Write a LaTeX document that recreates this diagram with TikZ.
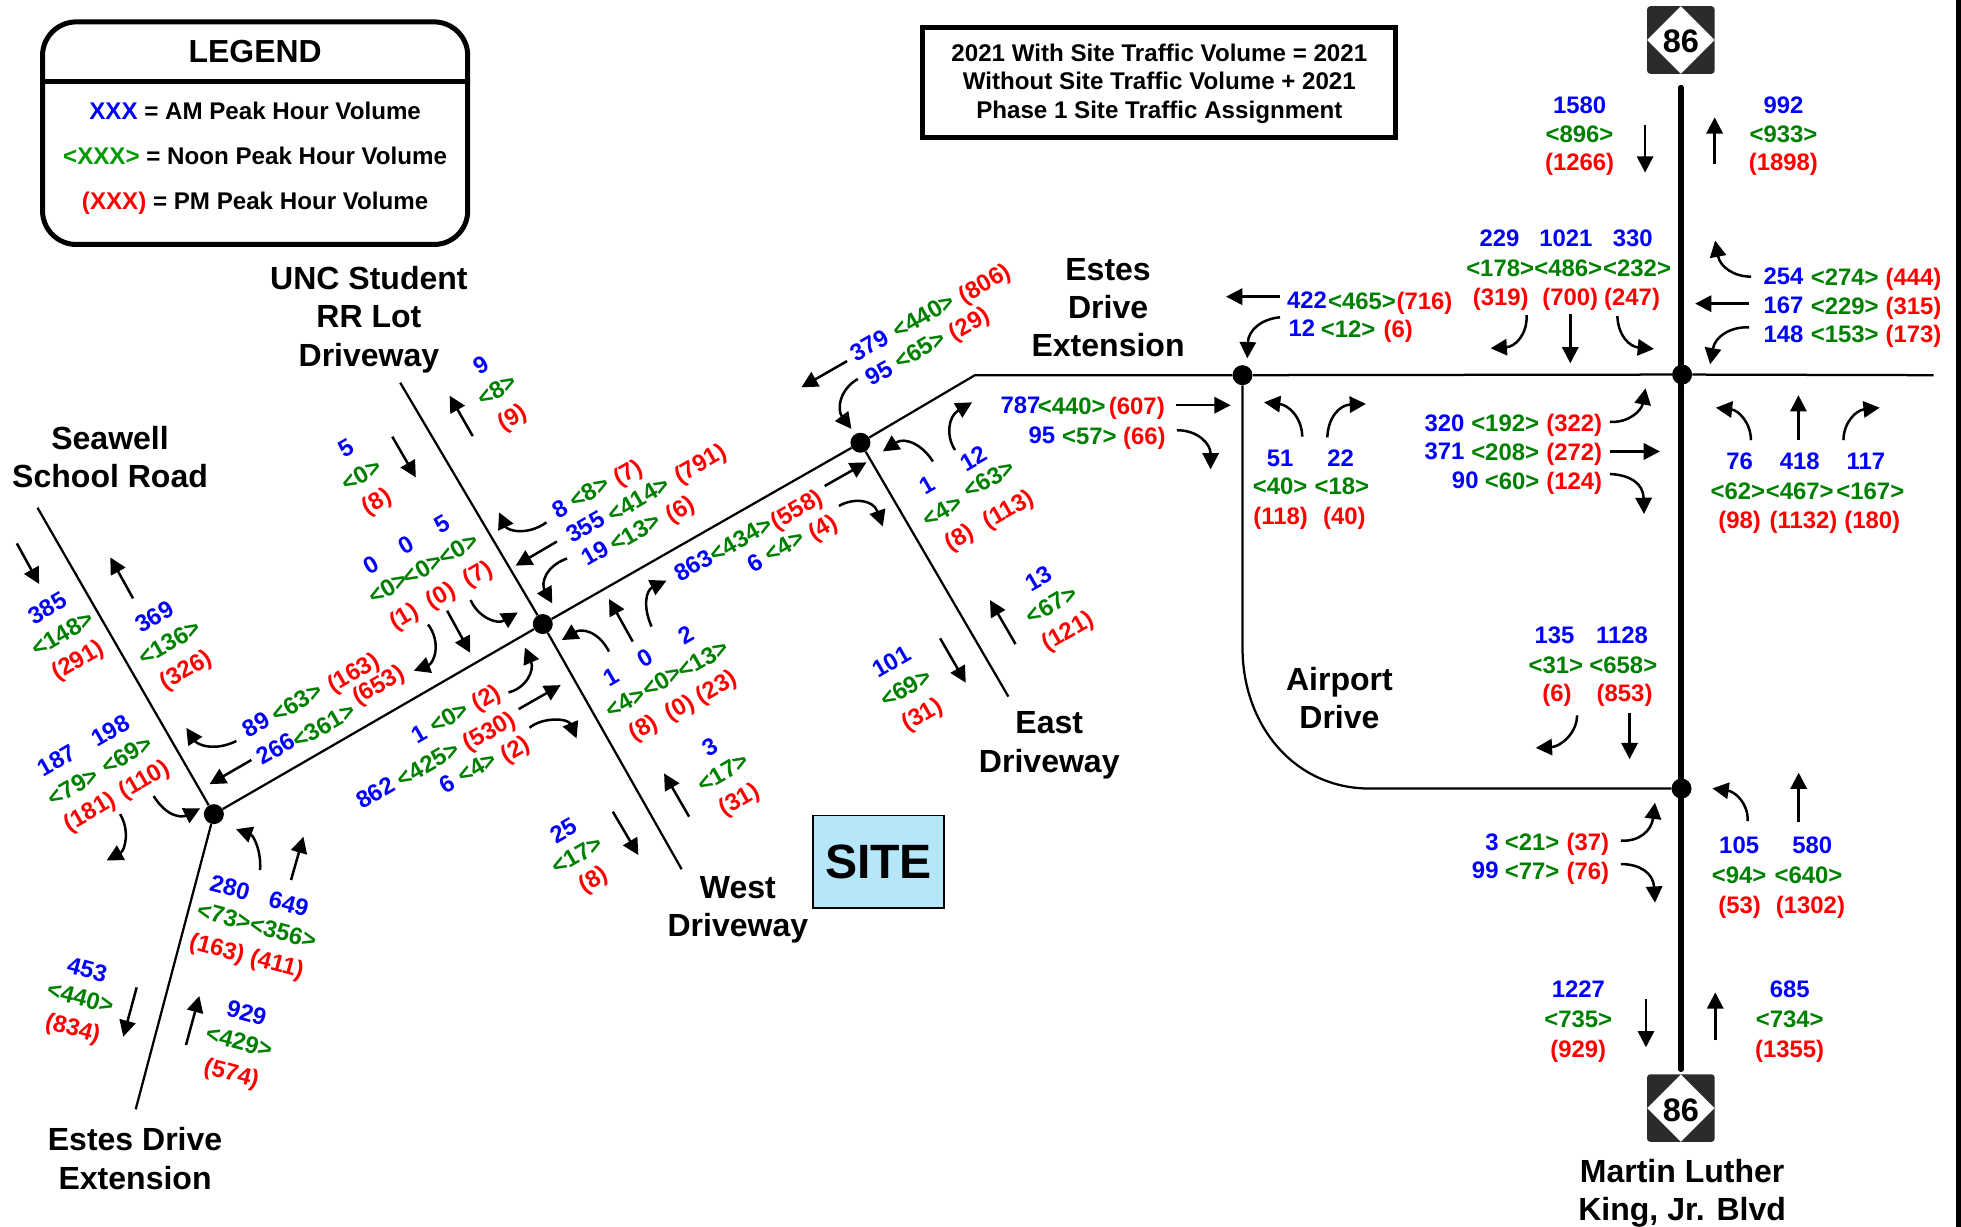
\documentclass[tikz,border=0pt]{standalone}
\usepackage{fontspec}
\setmainfont{Liberation Sans}
\usetikzlibrary{arrows.meta,shapes.geometric}
\definecolor{amc}{HTML}{0000FF}
\definecolor{noonc}{HTML}{008000}
\definecolor{pmc}{HTML}{FF0000}
\definecolor{legc}{HTML}{009900}
\definecolor{sitec}{HTML}{B5E6FA}
\definecolor{shieldc}{HTML}{2B2B2B}
\newcount\labn
\tikzset{
  vol/.style={inner sep=0pt,text height=14.5pt,text depth=0pt,font=\fontsize{19.1}{20}\selectfont\bfseries},
  volam/.style={vol,text=amc},
  volnoon/.style={vol,text=noonc},
  volpm/.style={vol,text=pmc},
  roadname/.style={inner sep=0pt,align=center,font=\fontsize{25.6}{30.7}\selectfont\bfseries},
  road/.style={line width=1.8pt},
  major/.style={line width=4.4pt,line cap=round},
  junction/.style={circle,fill=black,inner sep=0pt,minimum size=16pt},
  move/.style={line width=2pt,-{Triangle[length=13pt,width=13pt]}},
  legtext/.style={inner sep=0pt,text height=14.5pt,text depth=0pt,font=\fontsize{19.3}{20}\selectfont\bfseries},
  heavybox/.style={draw,line width=4pt,inner sep=0pt},
}
\newcommand\volA[3]{\global\advance\labn by 1 \node[volam,rotate=#1,yshift=0.5pt] (lab\the\labn) at (#2) {#3};}
\newcommand\volN[3]{\global\advance\labn by 1 \node[volnoon,rotate=#1] (lab\the\labn) at (#2) {#3};}
\newcommand\volP[3]{\global\advance\labn by 1 \node[volpm,rotate=#1,yshift=\ifnum#1=0 0pt\else\ifnum#1<0 2.5pt\else 1.2pt\fi\fi] (lab\the\labn) at (#2) {#3};}
\newcommand\shieldsign[3]{%
  \node[fill=shieldc,rounded corners=2.5pt,minimum size=54pt,inner sep=0pt] (#1) at (#2) {};
  \node[diamond,fill=white,minimum size=54pt,inner sep=0pt] (#1dia) at (#2) {};
  \node[inner sep=0pt,font=\fontsize{26}{26}\selectfont\bfseries] (#1num) at (#3) {86};}
\begin{document}
\begin{tikzpicture}[x=1pt,y=-1pt]
\useasboundingbox (0,0) rectangle (1568,981);
\fill[black] (1564,0) rectangle (1568,981);

% legend
\node[heavybox,rounded corners=27pt,minimum width=340pt,minimum height=178pt] (legend) at (204,106.5) {};
\draw[line width=4pt] (legend.west |- 0,65) -- (legend.east |- 0,65);
\node[inner sep=0pt,font=\fontsize{25.5}{25}\selectfont\bfseries] (legendtitle) at (204,41) {LEGEND};
\node[legtext] (legam) at (204,88.5) {\textcolor{amc}{XXX} = AM Peak Hour Volume};
\node[legtext] (legnoon) at (204,124.5) {\textcolor{legc}{<XXX>} = Noon Peak Hour Volume};
\node[legtext] (legpm) at (204,160) {\textcolor{pmc}{(XXX)} = PM Peak Hour Volume};

% note box
\node[heavybox,minimum width=378pt,minimum height=88pt] (note) at (927,66) {};
\node[inner sep=0pt,align=center,font=\fontsize{19.3}{23}\selectfont\bfseries] (notetext) at (927,67)
  {2021 With Site Traffic Volume = 2021\\Without Site Traffic Volume + 2021\\Phase 1 Site Traffic Assignment};

% site
\node[draw,line width=1.3pt,fill=sitec,minimum width=105pt,minimum height=74pt,inner sep=0pt,font=\fontsize{38.5}{38}\selectfont\bfseries] (site) at (702.5,689) {SITE};

% intersections
\node[junction] (A) at (171,651) {};
\node[junction] (B) at (434,499) {};
\node[junction] (C) at (688,354) {};
\node[junction] (D) at (993.5,300) {};
\node[junction] (E) at (1345,299.5) {};
\node[junction] (F) at (1344.5,630.5) {};
\coordinate (bendC) at (779.5,300);
\coordinate (eastEnd) at (1546,300);
\coordinate (seawellN) at (30,406);
\coordinate (estesS) at (108.5,887);
\coordinate (uncN) at (320,306);
\coordinate (westS) at (545,695);
\coordinate (eastS) at (806.3,557);
\coordinate (airA) at (993.5,518);
\coordinate (airB) at (1095,630.5);
\coordinate (mlkN) at (1344,70);
\coordinate (mlkS) at (1344,855);

% roads
\draw[road] (A) -- (B) -- (C) -- (bendC) -- (D) -- (E) -- (eastEnd);
\draw[road] (seawellN) -- (A) -- (estesS);
\draw[road] (uncN) -- (B) -- (westS);
\draw[road] (C) -- (eastS);
\draw[road] (D) -- (airA) .. controls (993.5,580) and (1035,630.5) .. (airB) -- (F);
\draw[major] (mlkN) -- (mlkS);

\shieldsign{shieldN}{1344,32}{1344,33}
\shieldsign{shieldS}{1344,886}{1344,887.5}

% road names
\node[roadname] (nUNC) at (295,255.5) {UNC Student\\RR Lot\\Driveway};
\node[roadname] (nSeawell) at (88,365.5) {Seawell\\School Road};
\node[roadname] (nEstesE) at (886,246) {Estes\\Drive\\Extension};
\node[roadname] (nEast) at (839,596) {East\\Driveway};
\node[roadname] (nWest) at (590,727.5) {West\\Driveway};
\node[roadname] (nEstesS) at (108,926.5) {Estes Drive\\Extension};
\node[roadname] (nAirport) at (1071,558) {Airport\\Drive};
\node[roadname] (nMLK) at (1345,954) {Martin Luther\\King, Jr. Blvd};

% movement arrows
\draw[move] (13.5,434.5) -- (31.3,467);
\draw[move] (106.4,478.5) -- (88.2,445.7);
\draw[move] (189,592.5) .. controls (171.7,601) and (158,595.7) .. (149,582);
\draw[move] (201,607.7) -- (167.6,627);
\draw[move] (313.7,349.2) -- (332.5,381.7);
\draw[move] (378,348.7) -- (359.5,316.4);
\draw[move] (437,417.7) .. controls (420.7,429) and (405.6,424) .. (399,409.7);
\draw[move] (445.3,433) -- (412.3,452.3);
\draw[move] (453.4,446.5) .. controls (435.9,453) and (432.5,466.5) .. (441.6,482.5);
\draw[move] (376.3,479.8) .. controls (382,493) and (397,499.8) .. (414,489.7);
\draw[move] (357.5,488.3) -- (376,522);
\draw[move] (342.3,499.3) .. controls (353.4,514.5) and (346.7,530.4) .. (330.9,536.3);
\draw[move] (487,521) .. controls (478,503.8) and (464.5,502.5) .. (449.3,511.8);
\draw[move] (505.9,513) -- (487,479);
\draw[move] (521,501) .. controls (513.8,485) and (516.6,472) .. (532.9,464.3);
\draw[move] (406.6,553.6) .. controls (420.7,550.4) and (427.5,535.8) .. (419.7,517.7);
\draw[move] (414.7,567) -- (448.3,547.8);
\draw[move] (423.4,581.9) .. controls (434.2,573) and (454.4,574.4) .. (461,590.4);
\draw[move] (551,653) -- (531,618.4);
\draw[move] (490,649) -- (510.4,683.7);
\draw[move] (812,515) -- (791.6,479.8);
\draw[move] (751.7,510.4) -- (772.2,545.9);
\draw[move] (96,651) .. controls (104,664) and (100,680) .. (85.3,688);
\draw[move] (122.9,636.5) .. controls (133,653) and (145,654) .. (160,646.4);
\draw[move] (208,695.7) .. controls (209,680) and (202.6,668) .. (188.7,663);
\draw[move] (232.7,703.7) -- (242.6,669);
\draw[move] (109.3,789.5) -- (98.6,829);
\draw[move] (148.7,835.6) -- (159.4,796.4);
\draw[move] (677.3,288.7) -- (640.8,309.7);
\draw[move] (685.9,303) .. controls (670.8,311.8) and (669.3,327.8) .. (680.8,343);
\draw[move] (659.4,388.6) -- (692.8,369.7);
\draw[move] (670.8,404.6) .. controls (680.8,398.5) and (697.9,398.5) .. (705.9,421);
\draw[move] (745.9,369) .. controls (737.9,355.8) and (723.6,349) .. (705.9,361);
\draw[move] (763.6,359.8) .. controls (756.4,349) and (757.9,333) .. (777.3,321.7);
\draw[move] (1023.5,237.2) -- (980.3,237.2);
\draw[move] (1023.5,253.7) .. controls (1008.8,255) and (998.1,263.9) .. (997.3,286.5);
\draw[move] (940,324) -- (984,324);
\draw[move] (941,344) .. controls (958,344) and (968,355) .. (968,375.3);
\draw[move] (1041.3,349.1) .. controls (1040.8,333.2) and (1030,323.8) .. (1010.7,321.7);
\draw[move] (1061.3,349.7) .. controls (1062,333.2) and (1071.4,323.8) .. (1092.2,323);
\draw[move] (1220.7,251.9) .. controls (1221.2,267.9) and (1211.4,277.2) .. (1191.9,278.5);
\draw[move] (1255.6,251.3) -- (1255.6,290.5);
\draw[move] (1293.2,252.7) .. controls (1294,269.2) and (1303.3,277.2) .. (1322.5,279);
\draw[move] (1287.3,337.4) .. controls (1303.3,338) and (1312.6,327.8) .. (1315.8,310.5);
\draw[move] (1287.3,361) -- (1327.3,361);
\draw[move] (1287.3,379) .. controls (1303.3,379.8) and (1314,386.5) .. (1314.5,411);
\draw[move] (1315.4,100) -- (1315.4,138);
\draw[move] (1371,131.4) -- (1371,93.8);
\draw[move] (1400.1,221.2) .. controls (1386,221.2) and (1375.3,213.2) .. (1371.4,192.4);
\draw[move] (1398.5,242.8) -- (1355.4,242.8);
\draw[move] (1398.5,261.7) .. controls (1383.3,261.2) and (1371.3,269.2) .. (1367.4,291.3);
\draw[move] (1400,352) .. controls (1400,338) and (1390,328) .. (1372,326);
\draw[move] (1438,352) -- (1438,316);
\draw[move] (1474,352) .. controls (1474,338) and (1484,328) .. (1503,326);
\draw[move] (1261,572) .. controls (1261,586) and (1248,597) .. (1228,598);
\draw[move] (1303,570) -- (1303,607);
\draw[move] (1397.4,656.5) .. controls (1398,642.3) and (1387.3,633) .. (1369.2,630.4);
\draw[move] (1438.2,657) -- (1438.2,617.8);
\draw[move] (1296.1,672.2) .. controls (1311.3,673) and (1320.6,663.7) .. (1323.3,641.8);
\draw[move] (1296.1,690.9) .. controls (1311.3,690.9) and (1322,698.3) .. (1323.3,721.8);
\draw[move] (1316.1,799) -- (1316.1,837.4);
\draw[move] (1371.5,831.6) -- (1371.5,793.5);

% Seawell approaches
\volA{30}{38,486}{385}\volN{30}{49.5,506}{<148>}\volP{30}{61.6,527}{(291)}
\volA{30}{123.5,493}{369}\volN{30}{135,513}{<136>}\volP{30}{148,534.5}{(326)}
\volA{30}{45.4,607.7}{187}\volA{30}{88,584}{198}
\volN{30}{58,628.5}{<79>}\volN{30}{101,603}{<69>}
\volP{30}{71,648}{(181)}\volP{30}{114.5,622.4}{(110)}
\volA{30}{204.6,579}{89}\volN{30}{237,561}{<63>}\volP{30}{282,537}{(163)}
\volA{30}{220.5,598.4}{266}\volN{30}{258.5,579.7}{<361>}\volP{30}{302,547}{(653)}
% UNC driveway
\volA{30}{276.7,358.5}{5}\volN{30}{288.5,379}{<0>}\volP{30}{300.6,399.8}{(8)}
\volA{30}{385,292}{9}\volN{30}{397,311}{<8>}\volP{30}{409,333}{(9)}
\volA{30}{297,452}{0}\volA{30}{325,436}{0}\volA{30}{353.4,419}{5}
\volN{30}{309.7,469.7}{<0>}\volN{30}{337.6,454.5}{<0>}\volN{30}{366,438.5}{<0>}
\volP{30}{322.4,491.8}{(1)}\volP{30}{351.7,475.3}{(0)}\volP{30}{381.4,458}{(7)}
\volA{30}{447.5,406.5}{8}\volN{30}{471,392.5}{<8>}\volP{30}{501.5,377}{(7)}
\volA{30}{468,421}{355}\volN{30}{510,398.4}{<414>}\volP{30}{559.4,369.7}{(791)}
\volA{30}{475.8,442}{19}\volN{30}{507.5,425}{<13>}\volP{30}{543.2,406.5}{(6)}
% West driveway
\volA{30}{335,586.4}{1}\volN{30}{358.5,573}{<0>}\volP{30}{388,557}{(2)}
\volA{30}{300,633.8}{862}\volN{30}{341.6,610.4}{<425>}\volP{30}{390.4,583.8}{(530)}
\volA{30}{357.8,626.4}{6}\volN{30}{381,613}{<4>}\volP{30}{411.3,598.4}{(2)}
\volA{30}{488.3,541.6}{1}\volA{30}{516,526}{0}\volA{30}{548.3,507.8}{2}
\volN{30}{499.8,561}{<4>}\volN{30}{529,543.8}{<0>}\volN{30}{561.9,526.4}{<13>}
\volP{30}{513.6,581}{(8)}\volP{30}{543,565}{(0)}\volP{30}{572.2,548.3}{(23)}
\volA{30}{567.7,597}{3}\volN{30}{577.9,617}{<17>}\volP{30}{590.4,638.4}{(31)}
\volA{30}{450.4,663.7}{25}\volN{30}{461,683.2}{<17>}\volP{30}{473.9,702.3}{(8)}
% East driveway
\volA{30}{695,276}{379}\volN{30}{738,252}{<440>}\volP{30}{786.6,225.7}{(806)}
\volA{30}{703,298}{95}\volN{30}{735,279}{<65>}\volP{30}{774.5,258}{(29)}
\volA{30}{554.3,451.8}{863}\volN{30}{592,430.5}{<434>}\volP{30}{636.6,406.5}{(558)}
\volA{30}{604,450}{6}\volN{30}{627,435.8}{<4>}\volP{30}{657.4,421}{(4)}
\volA{30}{741.4,387.7}{1}\volA{30}{778.6,366.6}{12}
\volN{30}{753,407.8}{<4>}\volN{30}{790.7,382.5}{<63>}
\volP{30}{766.4,428.6}{(8)}\volP{30}{805.5,406.5}{(113)}
\volA{30}{830.3,462.4}{13}\volN{30}{840.4,483}{<67>}\volP{30}{853,503.7}{(121)}
\volA{30}{712.5,529}{101}\volN{30}{723.7,549.6}{<69>}\volP{30}{736.5,570.4}{(31)}
% Estes south
\volA{-15}{184,709.5}{280}\volA{-15}{231,722.5}{649}
\volN{-15}{179.4,732}{<73>}\volN{-15}{226.6,745}{<356>}
\volP{-15}{173.8,757}{(163)}\volP{-15}{221.8,769.5}{(411)}
\volA{-15}{69.8,775}{453}\volN{-15}{64.5,797}{<440>}\volP{-15}{58.6,821}{(834)}
\volA{-15}{197.3,809.7}{929}\volN{-15}{191.4,832}{<429>}\volP{-15}{185.5,857}{(574)}
% Estes east / MLK
\volA{0}{1045,240}{422}\volN{0}{1089,240}{<465>}\volP{0}{1139,240}{(716)}
\volA{0}{1041,262.5}{12}\volN{0}{1078,262.5}{<12>}\volP{0}{1118,262.5}{(6)}
\volA{0}{816,324}{787}\volN{0}{857,324}{<440>}\volP{0}{909,324}{(607)}
\volA{0}{833,348}{95}\volN{0}{871,348}{<57>}\volP{0}{915,348}{(66)}
\volA{0}{1023.6,366}{51}\volA{0}{1072,366}{22}
\volN{0}{1023.6,388.4}{<40>}\volN{0}{1073,388.4}{<18>}
\volP{0}{1024,412}{(118)}\volP{0}{1075,412}{(40)}
\volA{0}{1263,84}{1580}\volN{0}{1263,107}{<896>}\volP{0}{1263,129}{(1266)}
\volA{0}{1426,84}{992}\volN{0}{1426,107}{<933>}\volP{0}{1426,129}{(1898)}
\volA{0}{1199,190.5}{229}\volA{0}{1252,190.5}{1021}\volA{0}{1305.6,190.5}{330}
\volN{0}{1199.5,214}{<178>}\volN{0}{1254,214}{<486>}\volN{0}{1309,214}{<232>}
\volP{0}{1200,236.7}{(319)}\volP{0}{1255.6,236.7}{(700)}\volP{0}{1305,236.7}{(247)}
\volA{0}{1155,338}{320}\volN{0}{1203.5,338}{<192>}\volP{0}{1258.7,338}{(322)}
\volA{0}{1155,361}{371}\volN{0}{1203.5,361}{<208>}\volP{0}{1258.7,361}{(272)}
\volA{0}{1171.6,384}{90}\volN{0}{1209,384}{<60>}\volP{0}{1258.7,384}{(124)}
\volA{0}{1426,221}{254}\volN{0}{1475,221}{<274>}\volP{0}{1530,221}{(444)}
\volA{0}{1426,244}{167}\volN{0}{1475,244}{<229>}\volP{0}{1530,244}{(315)}
\volA{0}{1426,267}{148}\volN{0}{1475,267}{<153>}\volP{0}{1530,267}{(173)}
\volA{0}{1391,369}{76}\volA{0}{1439,369}{418}\volA{0}{1492,369}{117}
\volN{0}{1389.5,392}{<62>}\volN{0}{1439,392}{<467>}\volN{0}{1495.5,392}{<167>}
\volP{0}{1391,415}{(98)}\volP{0}{1442,415}{(1132)}\volP{0}{1497,415}{(180)}
\volA{0}{1243,508}{135}\volA{0}{1297,508}{1128}
\volN{0}{1244,531}{<31>}\volN{0}{1298,531}{<658>}
\volP{0}{1245,554}{(6)}\volP{0}{1299,554}{(853)}
\volA{0}{1390.6,676}{105}\volA{0}{1449,676}{580}
\volN{0}{1390.6,699}{<94>}\volN{0}{1446,699}{<640>}
\volP{0}{1391,723}{(53)}\volP{0}{1447.6,723}{(1302)}
\volA{0}{1193,673}{3}\volN{0}{1225,673}{<21>}\volP{0}{1269.6,673}{(37)}
\volA{0}{1187.6,696}{99}\volN{0}{1225,696}{<77>}\volP{0}{1269.6,696}{(76)}
\volA{0}{1262,791}{1227}\volN{0}{1262,814}{<735>}\volP{0}{1262,838}{(929)}
\volA{0}{1431,791}{685}\volN{0}{1431,814}{<734>}\volP{0}{1431,838}{(1355)}
\end{tikzpicture}
\end{document}
